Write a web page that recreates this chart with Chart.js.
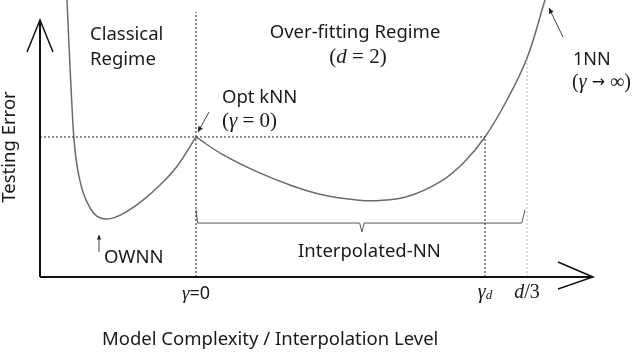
<!DOCTYPE html>
<html><head><meta charset="utf-8">
<script src="https://cdn.jsdelivr.net/npm/chart.js@4/dist/chart.umd.min.js"></script>
<style>html,body{margin:0;padding:0;background:#fff}canvas{display:block}</style>
</head><body>
<canvas id="c" width="640" height="352"></canvas>
<script>
// ---- data (arbitrary units: x = model complexity, y = testing error) ----
const classicalX = [4.86, 5.41, 6.0, 6.31, 6.90, 7.80, 9.01, 10.22, 11.71, 13.51, 15.62, 18.61, 21.62, 24.63, 28.1];
const classicalY = [107.8, 81.7, 57.2, 49.4, 40.5, 32.7, 26.9, 23.7, 22.6, 23.2, 25.4, 30.0, 35.8, 42.9, 54.5];
const overfitX = [28.1, 33.03, 39.05, 45.05, 51.05, 57.06, 60.67, 66.07, 72.07, 76.27, 80.18, 84.14, 87.75, 90.99];
const overfitY = [54.5, 47.5, 41.0, 35.8, 31.9, 30.0, 29.7, 31.2, 37.0, 44.4, 54.5, 68.9, 85.2, 107.8];
const gammaZero = 28.1;   // γ = 0
const gammaD = 80.18;     // γ_d
const dThird = 87.75;     // d/3
const optError = 54.5;    // error of optimal kNN
const guideTop = 103.1;
const bracketX = [28.1, 28.4, 57.6, 58.0, 58.4, 86.8, 87.4];
const bracketY = [26.1, 21.0, 21.0, 17.5, 21.0, 21.0, 26.1];
const tickValues = [gammaZero, gammaD, dThird];
const tickLabels = ['γ=0', 'γd', 'd/3'];

const pts = (xs, ys) => xs.map((x, i) => ({x, y: ys[i]}));

const SANS = '"Noto Sans", "Open Sans", sans-serif';
const SERIF = '"Liberation Serif", "DejaVu Serif", serif';

function runs(ctx, list, x, y, align) {
  let w = 0;
  list.forEach(r => { ctx.font = r.f; w += ctx.measureText(r.t).width; });
  let cx = align === 'center' ? x - w / 2 : x;
  list.forEach(r => {
    ctx.font = r.f;
    ctx.fillText(r.t, cx, y + (r.dy || 0));
    cx += ctx.measureText(r.t).width;
  });
}
function arrow(ctx, x1, y1, x2, y2, head) {
  ctx.beginPath(); ctx.moveTo(x1, y1); ctx.lineTo(x2, y2); ctx.stroke();
  const a = Math.atan2(y2 - y1, x2 - x1);
  ctx.beginPath();
  ctx.moveTo(x2, y2);
  ctx.lineTo(x2 - head * Math.cos(a - 0.45), y2 - head * Math.sin(a - 0.45));
  ctx.lineTo(x2 - head * Math.cos(a + 0.45), y2 - head * Math.sin(a + 0.45));
  ctx.closePath(); ctx.fill();
}

const annot = {
  id: 'annot',
  afterDatasetsDraw(chart) {
    const ctx = chart.ctx, xs = chart.scales.x, ys = chart.scales.y;
    const X = v => xs.getPixelForValue(v), Y = v => ys.getPixelForValue(v);
    ctx.save();
    // axes
    ctx.strokeStyle = '#111'; ctx.lineWidth = 2;
    const x0 = X(0), y0 = Y(0), yTip = Y(100), xTip = X(99.64);
    ctx.beginPath(); ctx.moveTo(x0, y0); ctx.lineTo(x0, yTip); ctx.stroke();
    ctx.beginPath(); ctx.moveTo(x0, y0); ctx.lineTo(xTip, y0); ctx.stroke();
    ctx.lineWidth = 1.5;
    ctx.beginPath(); ctx.moveTo(x0 - 13, yTip + 32); ctx.lineTo(x0, yTip); ctx.lineTo(x0 + 13, yTip + 32); ctx.stroke();
    ctx.beginPath(); ctx.moveTo(xTip - 35, y0 - 15); ctx.lineTo(xTip, y0); ctx.lineTo(xTip - 35, y0 + 12); ctx.stroke();

    // texts
    ctx.fillStyle = '#1a1a1a'; ctx.textBaseline = 'middle'; ctx.textAlign = 'left';
    const f = '18.5px ' + SANS;
    const m = '21px ' + SERIF, mi = 'italic 21px ' + SERIF;
    ctx.font = f;
    ctx.fillText('Classical', X(9.01), Y(94.2));
    ctx.fillText('Regime', X(9.01), Y(84.4));
    ctx.textAlign = 'center';
    ctx.fillText('Over-fitting Regime', X(56.76), Y(95.0));
    ctx.textAlign = 'left';
    runs(ctx, [{t:'(', f:m}, {t:'d', f:mi}, {t:' = 2)', f:m}], X(57.3), Y(85.6), 'center');
    ctx.font = f;
    ctx.fillText('Opt kNN', X(32.79), Y(69.6));
    runs(ctx, [{t:'(', f:m}, {t:'γ', f:mi}, {t:' = 0)', f:m}], X(32.79), Y(60.7), 'left');
    ctx.font = '18px ' + SANS;
    ctx.fillText('1NN', X(96.04), Y(84.4));
    runs(ctx, [{t:'(', f:'20px ' + SERIF}, {t:'γ', f:'italic 20px ' + SERIF}, {t:' →', f:'16px "DejaVu Sans", sans-serif'}, {t:' ∞)', f:'20px ' + SERIF}], X(95.86), Y(75.5), 'left');
    ctx.font = f;
    ctx.fillText('OWNN', X(11.53), Y(7.4));
    ctx.fillText('Interpolated-NN', X(46.49), Y(9.73));
    ctx.fillText('Model Complexity / Interpolation Level', X(11.17), Y(-24.5));
    // tick labels
    runs(ctx, [{t:tickLabels[0][0], f:'italic 19px ' + SERIF}, {t:tickLabels[0].slice(1), f:'18px ' + SANS}], X(tickValues[0]), Y(-6.6), 'center');
    runs(ctx, [{t:tickLabels[1][0], f:'italic 20px ' + SERIF}, {t:tickLabels[1][1], f:'italic 13px ' + SERIF, dy:3}], X(tickValues[1]), Y(-6.2), 'center');
    runs(ctx, [{t:tickLabels[2][0], f:'italic 20px ' + SERIF}, {t:tickLabels[2].slice(1), f:'20px ' + SERIF}], X(tickValues[2]), Y(-6.2), 'center');
    // y title
    ctx.save();
    ctx.translate(X(-5.41), Y(50.6)); ctx.rotate(-Math.PI / 2);
    ctx.textAlign = 'center'; ctx.font = f;
    ctx.fillText('Testing Error', 0, 0);
    ctx.restore();
    // pointer arrows
    ctx.strokeStyle = '#444'; ctx.fillStyle = '#222'; ctx.lineWidth = 1;
    arrow(ctx, X(30.45), Y(64.2), X(28.47), Y(56.4), 6);
    arrow(ctx, X(94.23), Y(93.4), X(91.71), Y(104.7), 6);
    arrow(ctx, X(10.63), Y(9.7), X(10.63), Y(16.3), 5);
    ctx.restore();
  }
};

const dotted = (data, color) => ({data, borderColor: color, borderWidth: 1, borderDash: [2, 2], pointRadius: 0, tension: 0, clip: false});

new Chart(document.getElementById('c'), {
  type: 'scatter',
  data: {
    datasets: [
      dotted([{x: 0, y: optError}, {x: gammaD, y: optError}], '#222'),
      dotted([{x: gammaZero, y: 0}, {x: gammaZero, y: guideTop}], '#222'),
      dotted([{x: gammaD, y: 0}, {x: gammaD, y: optError}], '#222'),
      dotted([{x: dThird, y: 0}, {x: dThird, y: overfitY[12]}], '#b0b0b0'),
      {data: pts(bracketX, bracketY), borderColor: '#555', borderWidth: 1, pointRadius: 0, tension: 0},
      {data: pts(classicalX, classicalY), borderColor: '#6a6a6a', borderWidth: 1.5, pointRadius: 0, tension: 0.4, clip: false},
      {data: pts(overfitX, overfitY), borderColor: '#6a6a6a', borderWidth: 1.5, pointRadius: 0, tension: 0.4, clip: false}
    ]
  },
  options: {
    responsive: false, devicePixelRatio: 1, animation: false,
    showLine: true,
    layout: {padding: {left: 40, right: 45, top: 0, bottom: 75}},
    plugins: {legend: {display: false}, tooltip: {enabled: false}},
    scales: {
      x: {type: 'linear', display: false, min: 0, max: 100},
      y: {type: 'linear', display: false, min: 0, max: 107.8}
    }
  },
  plugins: [annot]
});
</script>
</body></html>
